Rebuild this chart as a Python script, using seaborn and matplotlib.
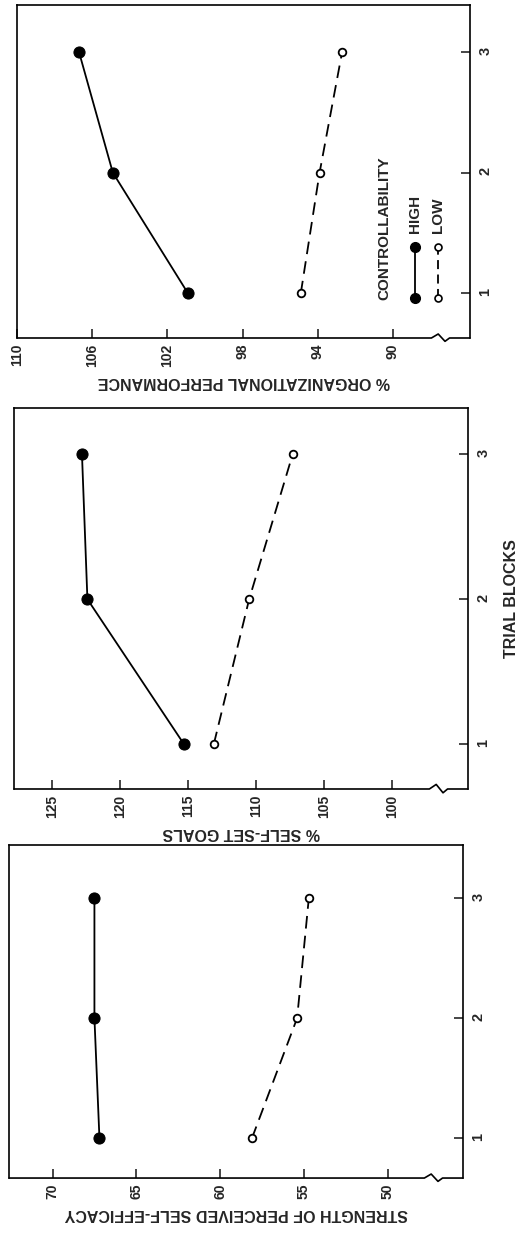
import matplotlib
matplotlib.use('Agg')
import matplotlib.pyplot as plt
import seaborn as sns
import pandas as pd

# trial blocks (vertical axis of each rotated panel)
trials = [1, 2, 3]

# % organizational performance
perf_high = [100.9, 104.9, 106.7]
perf_low = [94.9, 93.9, 92.7]
perf_ticks = [110, 106, 102, 98, 94, 90]

# % self-set goals
goals_high = [115.3, 122.4, 122.8]
goals_low = [113.1, 110.5, 107.3]
goals_ticks = [125, 120, 115, 110, 105, 100]

# strength of perceived self-efficacy
eff_high = [67.2, 67.5, 67.5]
eff_low = [58.1, 55.4, 54.7]
eff_ticks = [70, 65, 60, 55, 50]

sns.set_style('white')
plt.rcParams['font.family'] = ['Liberation Sans', 'DejaVu Sans']
plt.rcParams['font.weight'] = 'bold'

fig = plt.figure(figsize=(5.23, 12.39), dpi=100)

panels = [
    # rect, high, low, ticks, xlim, ylim, label
    ([0.0325, 0.7272, 0.866, 0.2688], perf_high, perf_low, perf_ticks,
     (110, 85.9), (0.63, 3.39), '% ORGANIZATIONAL PERFORMANCE'),
    ([0.0268, 0.3632, 0.868, 0.3075], goals_high, goals_low, goals_ticks,
     (127.8, 94.4), (0.69, 3.32), '% SELF-SET GOALS'),
    ([0.0172, 0.0492, 0.868, 0.2688], eff_high, eff_low, eff_ticks,
     (72.6, 45.5), (0.67, 3.44), 'STRENGTH OF PERCEIVED SELF-EFFICACY'),
]

axes = []
for rect, high, low, ticks, xlim, ylim, label in panels:
    ax = fig.add_axes(rect)
    df_high = pd.DataFrame({'trial': trials, 'value': high})
    df_low = pd.DataFrame({'trial': trials, 'value': low})

    sns.lineplot(data=df_low, x='value', y='trial', sort=False, estimator=None,
                 color='black', lw=1.3, ls=(0, (7, 4)), marker='o', markersize=5.5,
                 markerfacecolor='white', markeredgecolor='black',
                 markeredgewidth=1.3, ax=ax)
    sns.lineplot(data=df_high, x='value', y='trial', sort=False, estimator=None,
                 color='black', lw=1.3, marker='o', markersize=8,
                 markerfacecolor='black', markeredgecolor='black', ax=ax)

    ax.set_xlim(xlim)
    ax.set_ylim(ylim)
    ax.set_xticks(ticks)
    ax.set_yticks(trials)
    ax.yaxis.tick_right()
    ax.tick_params(axis='x', direction='in', length=6.5, width=1.2,
                   labelrotation=90, pad=4, labelsize=10, bottom=True)
    ax.tick_params(axis='y', direction='in', length=6.5, width=1.2,
                   labelrotation=90, pad=6, labelsize=10.5, right=True, left=False)
    for t in ax.get_xticklabels() + ax.get_yticklabels():
        t.set_fontweight('bold')
    ax.set_xlabel(label, rotation=180, labelpad=5, fontsize=11.5, fontweight='bold')
    ax.set_ylabel('')

    for s in ['top', 'left', 'right']:
        ax.spines[s].set_linewidth(1.2)
        ax.spines[s].set_color('black')
    # bottom spine with axis break near the low end
    ax.spines['bottom'].set_visible(False)
    ax.plot([0, 0.915, 0.93, 0.945, 0.955, 1.0], [0, 0, 0.012, -0.01, 0, 0],
            transform=ax.transAxes, color='black', lw=1.2, clip_on=False)
    axes.append(ax)

# shared x label (rotated page)
axes[1].yaxis.set_label_position('right')
axes[1].set_ylabel('TRIAL BLOCKS', rotation=90, labelpad=10, fontsize=11.5,
                   fontweight='bold')

# hand-drawn legend in the top panel
ax = axes[0]
ax.text(0.812, 0.114, 'CONTROLLABILITY', rotation=90, ha='center', va='bottom',
        transform=ax.transAxes, fontsize=11, fontweight='bold')
ax.plot([0.879, 0.879], [0.12, 0.273], transform=ax.transAxes, color='black',
        lw=1.3, marker='o', markersize=7, markerfacecolor='black')
ax.text(0.879, 0.315, 'HIGH', rotation=90, ha='center', va='bottom',
        transform=ax.transAxes, fontsize=11, fontweight='bold')
ax.plot([0.929, 0.929], [0.12, 0.273], transform=ax.transAxes, color='black',
        lw=1.3, ls=(0, (5, 3)), marker='o', markersize=5,
        markerfacecolor='white', markeredgewidth=1.2)
ax.text(0.929, 0.315, 'LOW', rotation=90, ha='center', va='bottom',
        transform=ax.transAxes, fontsize=11, fontweight='bold')

fig.savefig('out.png', dpi=100)
